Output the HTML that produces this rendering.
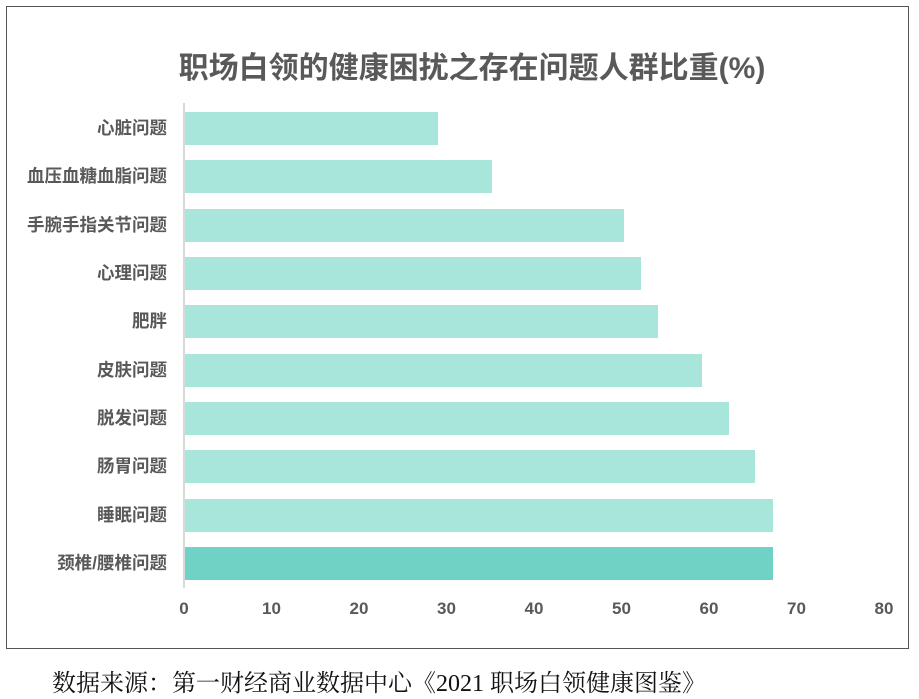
<!DOCTYPE html>
<html><head><meta charset="utf-8"><style>
body{margin:0;width:919px;height:699px;background:#fff;position:relative;font-family:"Liberation Sans","Noto Sans CJK SC",sans-serif;overflow:hidden}
.box{position:absolute;left:6px;top:6px;width:903px;height:643px;border:1.5px solid #555;box-sizing:border-box}
.t{position:absolute;left:122px;width:700px;top:43px;text-align:center;font-size:30px;font-weight:bold;color:#595959;white-space:nowrap}
.bar{position:absolute;left:185px;height:33px;background:#a8e6dc}
.lab{position:absolute;right:752px;font-size:17.5px;font-weight:bold;color:#595959;white-space:nowrap;line-height:33px}
.axis{position:absolute;left:183px;top:103px;width:2px;height:485px;background:#d9d9d9}
.tk{position:absolute;top:599px;width:40px;margin-left:-20px;text-align:center;font-size:17px;font-weight:bold;color:#595959}
.src{position:absolute;left:52px;top:663px;font-family:"Liberation Serif","Noto Serif CJK SC",serif;font-size:24px;color:#111;white-space:nowrap}
</style></head><body>
<div class="box"></div>
<div class="t">职场白领的健康困扰之存在问题人群比重(%)</div>
<div class="axis"></div>
<div class="bar" style="top:112px;width:253px"></div><div class="lab" style="top:112px">心脏问题</div>
<div class="bar" style="top:160px;width:307px"></div><div class="lab" style="top:160px">血压血糖血脂问题</div>
<div class="bar" style="top:209px;width:439px"></div><div class="lab" style="top:209px">手腕手指关节问题</div>
<div class="bar" style="top:257px;width:456px"></div><div class="lab" style="top:257px">心理问题</div>
<div class="bar" style="top:305px;width:473px"></div><div class="lab" style="top:305px">肥胖</div>
<div class="bar" style="top:354px;width:517px"></div><div class="lab" style="top:354px">皮肤问题</div>
<div class="bar" style="top:402px;width:544px"></div><div class="lab" style="top:402px">脱发问题</div>
<div class="bar" style="top:450px;width:570px"></div><div class="lab" style="top:450px">肠胃问题</div>
<div class="bar" style="top:499px;width:588px"></div><div class="lab" style="top:499px">睡眠问题</div>
<div class="bar" style="top:547px;width:588px;background:#70d2c4"></div><div class="lab" style="top:547px">颈椎/腰椎问题</div>
<div class="tk" style="left:184px">0</div><div class="tk" style="left:271.5px">10</div><div class="tk" style="left:359px">20</div><div class="tk" style="left:446.5px">30</div><div class="tk" style="left:534px">40</div><div class="tk" style="left:621.5px">50</div><div class="tk" style="left:709px">60</div><div class="tk" style="left:796.5px">70</div><div class="tk" style="left:884px">80</div>
<div class="src">数据来源：第一财经商业数据中心《2021 职场白领健康图鉴》</div>
</body></html>
